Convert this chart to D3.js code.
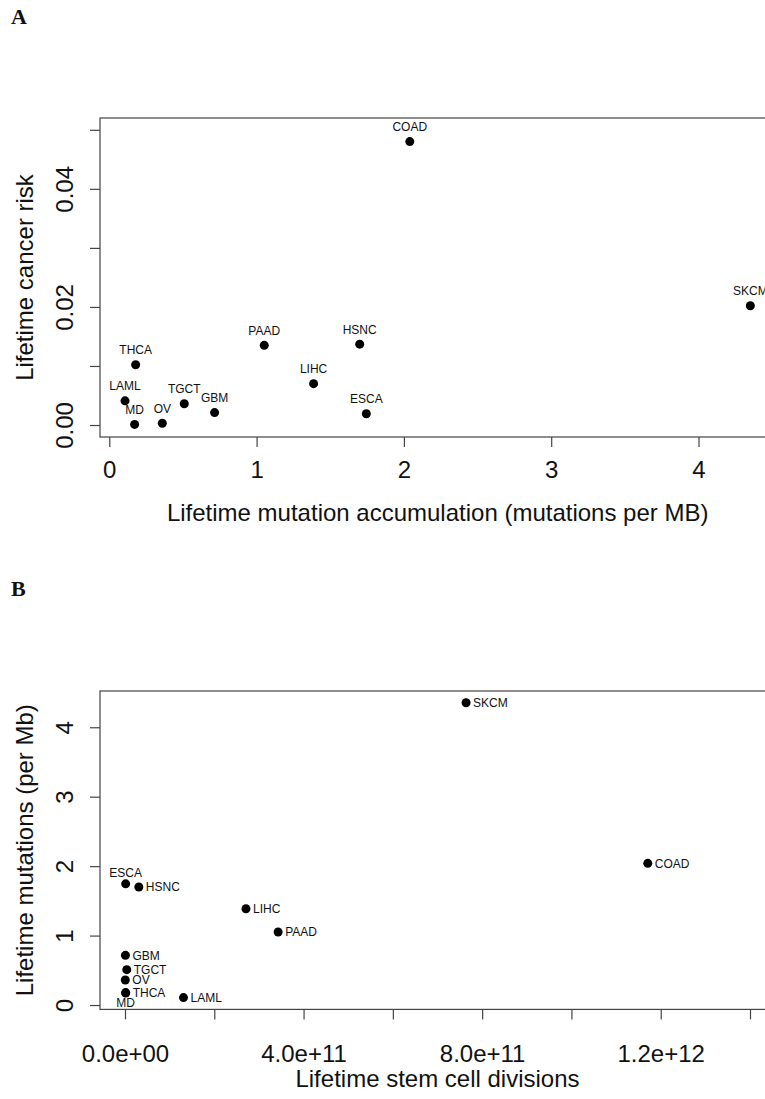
<!DOCTYPE html>
<html>
<head>
<meta charset="utf-8">
<script src="https://cdn.jsdelivr.net/npm/d3@7"></script>
<style>
  body { margin: 0; background: #fff; }
  svg { display: block; overflow: hidden; }
  text { font-family: "Liberation Sans", Arial, Helvetica, sans-serif; fill: #111; }
</style>
</head>
<body>
<div id="chart"></div>
<script>
// cancer types and their values
const cancers = ["COAD", "SKCM", "THCA", "LAML", "MD", "OV", "TGCT", "GBM", "PAAD", "LIHC", "HSNC", "ESCA"];
const mutationsPerMb = [2.04, 4.352, 0.179, 0.107, 0.172, 0.36, 0.509, 0.715, 1.052, 1.387, 1.70, 1.745];
const cancerRisk = [0.0480, 0.0202, 0.0102, 0.0041, 0.0001, 0.0003, 0.0036, 0.0021, 0.0135, 0.0070, 0.0137, 0.0019];
const stemCellDivisions = [1.171e12, 7.64e11, 1.5e9, 1.31e11, 1.5e9, 7e8, 4e9, 1e9, 3.43e11, 2.71e11, 3.1e10, 1.5e9];
// where the label sits in panel B
const labelSideB = ["right", "right", "right", "right", "below", "right", "right", "right", "right", "right", "right", "above"];

// ticks
const mutTicks = [0, 1, 2, 3, 4];
const riskTicks = [0, 0.01, 0.02, 0.03, 0.04, 0.05];
const riskLabels = ["0.00", "", "0.02", "", "0.04", ""];
const divTicks = [0, 2e11, 4e11, 6e11, 8e11, 1e12, 1.2e12, 1.4e12];
const divLabels = ["0.0e+00", "", "4.0e+11", "", "8.0e+11", "", "1.2e+12", ""];

const width = 765, height = 1099;

const svg = d3.select("#chart").append("svg")
    .attr("width", width)
    .attr("height", height);

// panel letters
svg.append("text").attr("x", 11).attr("y", 24)
    .style("font-family", "'Liberation Serif', 'DejaVu Serif', serif")
    .style("font-weight", "bold").style("font-size", "22px").text("A");
svg.append("text").attr("x", 11).attr("y", 596)
    .style("font-family", "'Liberation Serif', 'DejaVu Serif', serif")
    .style("font-weight", "bold").style("font-size", "22px").text("B");

function drawPanel(opts) {
    const g = svg.append("g");
    const x = d3.scaleLinear().domain(opts.xDomain).range([opts.left, opts.right]);
    const y = d3.scaleLinear().domain(opts.yDomain).range([opts.bottom, opts.top]);

    // plot box
    g.append("rect")
        .attr("x", opts.left).attr("y", opts.top)
        .attr("width", opts.right - opts.left).attr("height", opts.bottom - opts.top)
        .attr("fill", "none").attr("stroke", "#444").attr("stroke-width", 1.2);

    // x axis
    const xAxis = g.append("g")
        .attr("transform", `translate(0,${opts.bottom})`)
        .call(d3.axisBottom(x)
            .tickValues(opts.xTicks)
            .tickFormat((d, i) => opts.xLabels[i])
            .tickSize(10)
            .tickSizeOuter(0)
            .tickPadding(opts.xPad));
    xAxis.select(".domain").remove();
    xAxis.selectAll("line").attr("stroke", "#444").attr("stroke-width", 1.2);
    xAxis.selectAll("text").style("font-size", "24px").attr("fill", "#111");

    // y axis, labels rotated like base R
    const yAxis = g.append("g")
        .attr("transform", `translate(${opts.left},0)`)
        .call(d3.axisLeft(y)
            .tickValues(opts.yTicks)
            .tickFormat((d, i) => opts.yLabels[i])
            .tickSize(10)
            .tickSizeOuter(0));
    yAxis.select(".domain").remove();
    yAxis.selectAll("line").attr("stroke", "#444").attr("stroke-width", 1.2);
    yAxis.selectAll("text")
        .attr("x", null).attr("dy", null)
        .attr("text-anchor", "middle")
        .attr("transform", "translate(-27,0) rotate(-90)")
        .style("font-size", "24px").attr("fill", "#111");

    // axis titles
    g.append("text")
        .attr("x", (opts.left + opts.right) / 2).attr("y", opts.xTitleY)
        .attr("text-anchor", "middle").style("font-size", "24px")
        .text(opts.xTitle);
    g.append("text")
        .attr("transform", `translate(33,${(opts.top + opts.bottom) / 2}) rotate(-90)`)
        .attr("text-anchor", "middle").style("font-size", "24px")
        .text(opts.yTitle);

    // points
    g.selectAll("circle.pt")
        .data(opts.points)
        .enter()
        .append("circle")
        .attr("class", "pt")
        .attr("cx", d => x(d.x))
        .attr("cy", d => y(d.y))
        .attr("r", 4.5)
        .attr("fill", "#000");

    // point labels
    g.selectAll("text.lab")
        .data(opts.points)
        .enter()
        .append("text")
        .attr("class", "lab")
        .style("font-size", "12px")
        .attr("text-anchor", d => d.side === "right" ? "start" : "middle")
        .attr("x", d => d.side === "right" ? x(d.x) + 7 : x(d.x))
        .attr("y", d => {
            if (d.side === "right") return y(d.y) + 4.3;
            if (d.side === "below") return y(d.y) + 14;
            return y(d.y) - (opts.aboveGap || 10.5);
        })
        .text(d => d.name);
}

// Panel A
drawPanel({
    left: 100, right: 775.4, top: 118, bottom: 437,
    xDomain: [-0.063, 4.522],
    yDomain: [-0.00203, 0.052],
    xTicks: mutTicks, xLabels: mutTicks.map(String),
    yTicks: riskTicks, yLabels: riskLabels,
    xPad: 14,
    xTitle: "Lifetime mutation accumulation (mutations per MB)",
    xTitleY: 521,
    yTitle: "Lifetime cancer risk",
    points: cancers.map((c, i) => ({ name: c, x: mutationsPerMb[i], y: cancerRisk[i], side: "above" }))
});

// Panel B
drawPanel({
    left: 100, right: 775, top: 691, bottom: 1009.4,
    xDomain: [-0.56e11, 14.56e11],
    yDomain: [-0.063, 4.522],
    xTicks: divTicks, xLabels: divLabels,
    yTicks: mutTicks, yLabels: mutTicks.map(String),
    xPad: 26,
    xTitle: "Lifetime stem cell divisions",
    xTitleY: 1087,
    yTitle: "Lifetime mutations (per Mb)",
    aboveGap: 6.5,
    points: cancers.map((c, i) => ({ name: c, x: stemCellDivisions[i], y: mutationsPerMb[i], side: labelSideB[i] }))
});
</script>
</body>
</html>
